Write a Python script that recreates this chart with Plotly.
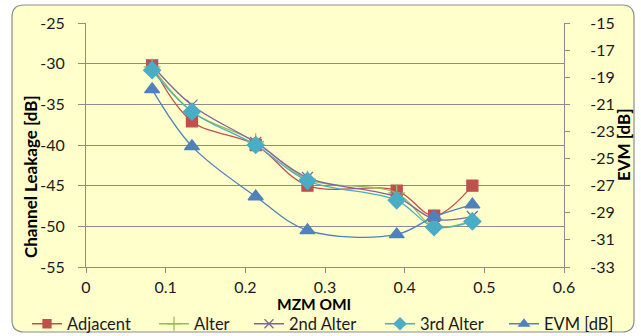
import plotly.graph_objects as go

omi = [0.083, 0.133, 0.213, 0.278, 0.39, 0.437, 0.485]
adjacent = [-30.2, -37.1, -40.0, -45.0, -45.6, -48.7, -45.0]
alter = [-30.4, -35.9, -39.6, -44.2, -45.9, -50.0, -49.3]
alter2 = [-30.2, -35.1, -39.7, -44.0, -46.4, -49.1, -48.8]
alter3 = [-30.8, -35.9, -40.0, -44.4, -46.8, -50.1, -49.4]
evm = [-19.9, -24.1, -27.8, -30.3, -30.6, -29.3, -28.4]

series_names = ["Adjacent", "Alter", "2nd Alter", "3rd Alter", "EVM [dB]"]
left_ticks = [-25, -30, -35, -40, -45, -50, -55]
right_ticks = [-15, -17, -19, -21, -23, -25, -27, -29, -31, -33]
x_ticks = [0, 0.1, 0.2, 0.3, 0.4, 0.5, 0.6]

W, H = 641, 336
ML, MR, MT, MB = 86, 77, 23, 69
PW, PH = W - ML - MR, H - MT - MB

def px(x):
    return (x - ML) / PW

def py(y):
    return (H - MB - y) / PH

FONT = "Lato"
fig = go.Figure()

styles = [
    ("#C0504D", "square", 11, 8),
    ("#9BBB59", "cross-thin", 12, 10),
    ("#8064A2", "x-thin", 11, 9),
    ("#4BACC6", "diamond", 13, 9),
    ("#4F81BD", "triangle-up", 13, 9),
]
data = [adjacent, alter, alter2, alter3, evm]
axes = ["y", "y", "y", "y", "y2"]
legend_x_px = [27, 154, 249, 380, 504]

for i, (name, ys, (color, sym, size, lsize), ax) in enumerate(zip(series_names, data, styles, axes)):
    fig.add_trace(go.Scatter(
        x=omi, y=ys, name=name, yaxis=ax, mode="lines+markers", showlegend=False,
        line=dict(color=color, width=1.3, shape="spline"),
        marker=dict(symbol=sym, size=size, color=color, line=dict(color=color, width=1.3)),
    ))
    # legend entry (no data points) with smaller legend symbol
    lg = "legend" if i == 0 else f"legend{i+1}"
    fig.add_trace(go.Scatter(
        x=[None], y=[None], name=name, yaxis=ax, mode="lines+markers", legend=lg,
        line=dict(color=color, width=1.3),
        marker=dict(symbol=sym, size=lsize, color=color, line=dict(color=color, width=1.3)),
    ))

# rounded chart border
l, r, t, b, rad = 12, 634, 5, 332, 12
path = (f"M {px(l+rad)},{py(t)} L {px(r-rad)},{py(t)} Q {px(r)},{py(t)} {px(r)},{py(t+rad)} "
        f"L {px(r)},{py(b-rad)} Q {px(r)},{py(b)} {px(r-rad)},{py(b)} "
        f"L {px(l+rad)},{py(b)} Q {px(l)},{py(b)} {px(l)},{py(b-rad)} "
        f"L {px(l)},{py(t+rad)} Q {px(l)},{py(t)} {px(l+rad)},{py(t)} Z")
fig.add_shape(type="path", path=path, xref="paper", yref="paper",
              fillcolor="#FFFFCC", line=dict(color="#8C8C8C", width=1.2), layer="below")

tickfont = dict(family=FONT, size=16, color="#1a1a1a")
titlefont = dict(family=FONT, size=17, color="#000000", weight="bold")

def lab(v):
    return f"{v:g}".replace("\u2212", "-")

# axis titles
fig.add_annotation(text="MZM OMI", x=px(314), y=py(304), xref="paper", yref="paper",
                   showarrow=False, font=dict(titlefont, size=15.5), xanchor="center",
                   yanchor="middle")
fig.add_annotation(text="Channel Leakage [dB]", x=px(31), y=py(177), xref="paper", yref="paper",
                   showarrow=False, font=titlefont, textangle=-90,
                   xanchor="center", yanchor="middle")
fig.add_annotation(text="EVM [dB]", x=px(623), y=py(145), xref="paper", yref="paper",
                   showarrow=False, font=titlefont, textangle=-90,
                   xanchor="center", yanchor="middle")

legend_common = dict(orientation="h", xref="container", yref="container",
                     xanchor="left", y=1 - 324 / H, yanchor="middle",
                     font=dict(family=FONT, size=16.5, color="#1a1a1a"),
                     bgcolor="rgba(0,0,0,0)", itemwidth=30)
legends = {}
for i, lx in enumerate(legend_x_px):
    key = "legend" if i == 0 else f"legend{i+1}"
    legends[key] = dict(legend_common, x=lx / W)

fig.update_layout(
    width=W, height=H,
    margin=dict(l=ML, r=MR, t=MT, b=MB, autoexpand=False),
    paper_bgcolor="white",
    plot_bgcolor="rgba(0,0,0,0)",
    showlegend=True,
    **legends,
    xaxis=dict(range=[0, 0.6], tickvals=x_ticks, ticktext=[lab(v) for v in x_ticks],
               showgrid=False, zeroline=False, showline=True, linecolor="#8C8C8C",
               ticks="outside", ticklen=5, tickcolor="#8C8C8C", tickfont=tickfont,
               ticklabelstandoff=1),
    yaxis=dict(range=[-55, -25], tickvals=left_ticks, ticktext=[lab(v) for v in left_ticks],
               showgrid=True, gridcolor="#8C8C8C",
               gridwidth=1, zeroline=False, showline=True, linecolor="#8C8C8C",
               ticks="outside", ticklen=7, tickcolor="#8C8C8C", tickfont=tickfont,
               ticklabelstandoff=10),
    yaxis2=dict(range=[-33, -15], tickvals=right_ticks, ticktext=[lab(v) for v in right_ticks],
                overlaying="y", side="right",
                showgrid=False, zeroline=False, showline=True, linecolor="#8C8C8C",
                ticks="outside", ticklen=5, tickcolor="#8C8C8C", tickfont=tickfont,
                ticklabelstandoff=17),
)

fig.write_html("out.html")
